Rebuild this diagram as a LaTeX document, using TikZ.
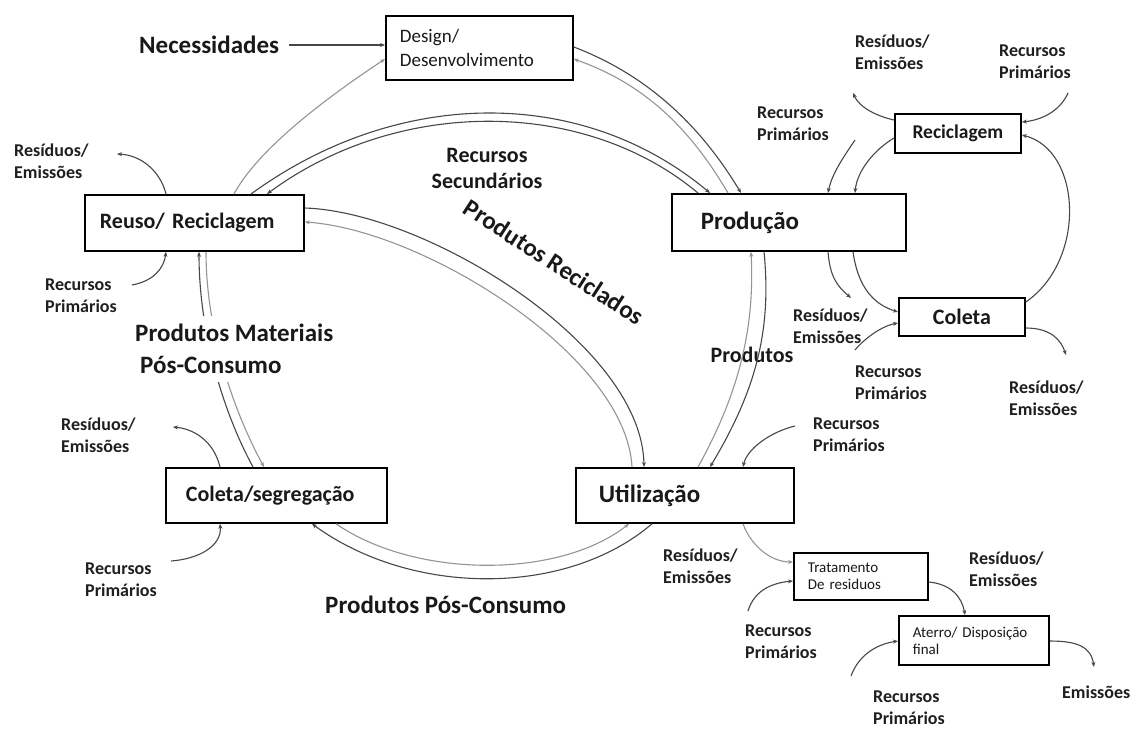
\documentclass[tikz,border=0pt]{standalone}
\usepackage{fontspec}
\setmainfont{Carlito}
\usetikzlibrary{arrows.meta,calc}
\newcommand\FBig{\fontsize{25}{32}\selectfont\bfseries}
\newcommand\FMid{\fontsize{22}{26}\selectfont\bfseries}
\newcommand\FSml{\fontsize{18}{22}\selectfont\bfseries}
\newcommand\FRec{\fontsize{19.5}{22}\selectfont\bfseries}
\newcommand\FReg{\fontsize{19}{24}\selectfont}
\newcommand\FTiny{\fontsize{15}{17}\selectfont}
\begin{document}
\begin{tikzpicture}[x=1pt,y=-1pt,
  box/.style={draw=black, line width=1.8pt, fill=white, anchor=north west, inner ysep=0pt, align=left, text=black!90},
  flow/.style={draw=black!72, line width=1.1pt, -{Stealth[length=5pt,width=4pt]}},
  lflow/.style={flow, draw=black!42},
  lbl/.style={font=\FSml, align=left, anchor=west, inner sep=0pt, text=black!88},
  bigl/.style={font=\FBig, align=left, anchor=west, inner sep=0pt, text=black!90},
  midl/.style={font=\FMid, align=center, inner sep=0pt, text=black!90}]
\fill[white] (0,0) rectangle (1132,728);
\useasboundingbox (0,0) rectangle (1132,728);

% boxes
\node[box, minimum height=64, text width=159, inner xsep=14, font=\FReg] (design) at (385,15) {Design/\\Desenvolvimento};
\node[box, minimum height=56, text width=189, inner xsep=15, font=\FMid] (reuso) at (84,194) {Reuso/ Reciclagem};
\node[box, minimum height=57, text width=176, inner xsep=29, font=\FBig] (prod) at (671,193) {Produção};
\node[box, minimum height=39, text width=110, inner xsep=8, font=\FRec, align=center] (recic) at (894,113) {Reciclagem};
\node[box, minimum height=38, text width=110, inner xsep=8, font=\FMid, align=center] (coleta) at (898,297) {Coleta};
\node[box, minimum height=55, text width=172, inner xsep=23, font=\FBig] (util) at (575,467) {Utilização};
\node[box, minimum height=55, text width=181, inner xsep=20, font=\FMid] (colseg) at (165,467) {Coleta/segregação};
\node[box, minimum height=47, text width=106, inner xsep=14, font=\FTiny] (trat) at (793,552) {Tratamento\\De residuos};
\node[box, minimum height=49, text width=122, inner xsep=14, font=\FTiny] (aterro) at (898,615) {Aterro/ Disposição\\final};

% free ends
\coordinate (d1) at (117,154);
\coordinate (d2) at (851,298);
\coordinate (d3) at (853,93);
\coordinate (d4) at (1066,355);
\coordinate (d5) at (1094,667);
\coordinate (d6) at (173,427);
\coordinate (s1) at (132,285);
\coordinate (s2) at (855,140);
\coordinate (s3) at (1068,93);
\coordinate (s4) at (855,350);
\coordinate (s5) at (795,426);
\coordinate (s6) at (748,611);
\coordinate (s7) at (851,676);
\coordinate (s8) at (171,561);

% main texts
\node[bigl] (nec) at (139,45) {Necessidades};
\node[midl] (secund) at (487,168) {Recursos\\Secundários};
\node[midl] (produtos) at (752,355) {Produtos};
\node[bigl] (ppc) at (325,605) {Produtos Pós-Consumo};

% main cycle connectors
\draw[flow, shorten <=10pt] (nec.east) -- (nec.east -| design.west);
\draw[lflow] ($(reuso.north west)+(150,0)$) .. controls +(20,-37) and +(-80,53) .. ($(design.north west)+(0,44)$);
\draw[flow] ($(design.north east)+(0,32)$) .. controls +(71,27) and +(-42,-70) .. ($(prod.north west)+(70,0)$);
\draw[lflow] ($(prod.north west)+(57,0)$) .. controls +(-40,-68) and +(68,24) .. ($(design.north east)+(0,44)$);
\draw[flow] ($(reuso.north west)+(167,0)$) .. controls +(147,-107) and +(-128,-107) .. ($(prod.north west)+(39,0)$);
\draw[flow] ($(prod.north west)+(27,0)$) .. controls +(-115,-96) and +(130,-96) .. ($(reuso.north west)+(183,0)$);
\draw[flow] ($(reuso.north east)+(0,14)$) .. controls +(122,4) and +(-2,-122) .. ($(util.north west)+(69,0)$);
\draw[lflow] ($(util.north west)+(57,0)$) .. controls +(-6,-112) and +(118,8) .. ($(reuso.north east)+(0,28)$);
\draw[flow] ($(prod.south west)+(93,0)$) .. controls +(8,80) and +(45,-75) .. ($(util.north west)+(135,0)$);
\draw[lflow] ($(util.north west)+(123,0)$) .. controls +(40,-72) and +(4,78) .. ($(prod.south west)+(80,0)$);
\draw[flow] ($(util.south west)+(77,0)$) .. controls +(-85,73) and +(100,73) .. ($(colseg.south west)+(147,0)$);
\draw[lflow] ($(colseg.south west)+(171,0)$) .. controls +(80,55) and +(-70,55) .. ($(util.south west)+(54,0)$);
\draw[flow] ($(colseg.north west)+(88,0)$) .. controls +(-30,-55) and +(0,80) .. ($(reuso.south west)+(115,0)$);
\draw[lflow] ($(reuso.south west)+(122,0)$) .. controls +(0,80) and +(-30,-55) .. ($(colseg.north west)+(99,0)$);

% texts over lines
\node[bigl, fill=white, inner ysep=8pt] (pmat) at (135,349) {Produtos Materiais\\\hspace*{5pt}Pós-Consumo};
\node[font=\FBig, inner sep=0pt, text=black!90, rotate=-33] (recicl) at (554,262) {Produtos Reciclados};

% side flows
\draw[flow] ($(reuso.north west)+(82,0)$) .. controls +(-6,-24) and +(23,1) .. (d1);
\draw[flow] (s1) .. controls +(22,-4) and +(-2,16) .. ($(reuso.south west)+(82,0)$);
\draw[flow] (s2) .. controls +(-10,15) and +(4,-20) .. ($(prod.north west)+(157,0)$);
\draw[flow] ($(recic.north west)+(0,25)$) .. controls +(-20,12) and +(2,-22) .. ($(prod.north west)+(184,0)$);
\draw[flow] ($(prod.south west)+(157,0)$) .. controls +(2,25) and +(-14,-12) .. (d2);
\draw[flow] ($(prod.south west)+(182,0)$) .. controls +(5,35) and +(-25,-8) .. ($(coleta.north west)+(0,15)$);
\draw[flow] ($(coleta.north east)+(0,5)$) .. controls +(61,-42) and +(60,15) .. ($(recic.north east)+(0,22)$);
\draw[flow] ($(recic.north west)+(0,7)$) .. controls +(-18,-4) and +(6,14) .. (d3);
\draw[flow] (s3) .. controls +(-8,18) and +(20,-2) .. ($(recic.north east)+(0,9)$);
\draw[flow] (s4) .. controls +(10,-12) and +(-16,3) .. ($(coleta.north west)+(0,26)$);
\draw[flow] ($(coleta.north east)+(0,31)$) .. controls +(25,0) and +(-5,-15) .. (d4);
\draw[flow] (s5) .. controls +(-25,6) and +(4,-18) .. ($(util.north west)+(168,0)$);
\draw[lflow] ($(util.south west)+(168,0)$) .. controls +(8,22) and +(-22,0) .. ($(trat.north west)+(0,10)$);
\draw[flow] (s6) .. controls +(6,-20) and +(-22,2) .. ($(trat.north west)+(0,29)$);
\draw[flow] ($(trat.north east)+(0,30)$) .. controls +(22,2) and +(-3,-18) .. ($(aterro.north west)+(67,0)$);
\draw[flow] (s7) .. controls +(8,-22) and +(-20,3) .. ($(aterro.north west)+(0,26)$);
\draw[flow] ($(aterro.north east)+(0,26)$) .. controls +(28,0) and +(-3,-20) .. (d5);
\draw[flow] ($(colseg.north west)+(55,0)$) .. controls +(-6,-25) and +(22,2) .. (d6);
\draw[flow] (s8) .. controls +(28,-2) and +(2,22) .. ($(colseg.south west)+(55,0)$);

% small labels
\node[lbl] (re1) at (14,161) {Resíduos/\\Emissões};
\node[lbl] (rp1) at (45,296) {Recursos\\Primários};
\node[lbl] (re2) at (855,52) {Resíduos/\\Emissões};
\node[lbl] (rp2) at (999,62) {Recursos\\Primários};
\node[lbl] (rp3) at (757,124) {Recursos\\Primários};
\node[lbl] (re3) at (793,326) {Resíduos/\\Emissões};
\node[lbl] (rp4) at (855,383) {Recursos\\Primários};
\node[lbl] (re4) at (1009,398) {Resíduos/\\Emissões};
\node[lbl] (rp5) at (813,435) {Recursos\\Primários};
\node[lbl] (re5) at (61,435) {Resíduos/\\Emissões};
\node[lbl] (rp6) at (85,580) {Recursos\\Primários};
\node[lbl] (re6) at (663,566) {Resíduos/\\Emissões};
\node[lbl] (re7) at (969,569) {Resíduos/\\Emissões};
\node[lbl] (rp7) at (745,642) {Recursos\\Primários};
\node[lbl] (rp8) at (873,708) {Recursos\\Primários};
\node[lbl] (emis) at (1062,692) {Emissões};
\end{tikzpicture}
\end{document}
